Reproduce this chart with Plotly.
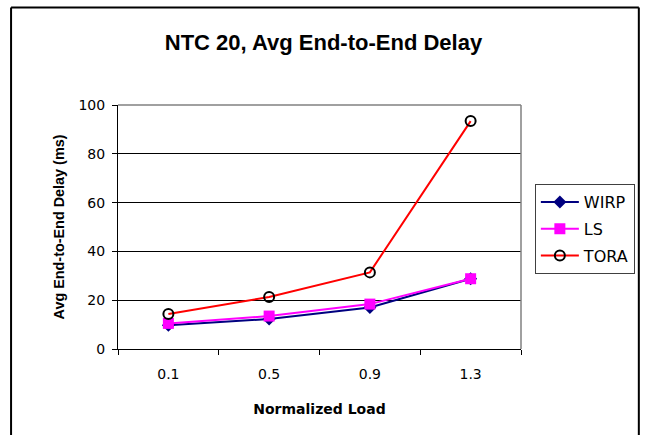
import plotly.graph_objects as go

categories = ["0.1", "0.5", "0.9", "1.3"]
wirp = [9.7, 12.3, 17.0, 28.8]
ls = [10.5, 13.5, 18.4, 28.8]
tora = [14.3, 21.3, 31.4, 93.4]

ARIAL = "Liberation Sans, Arial, sans-serif"
DEJA = "DejaVu Sans, Verdana, sans-serif"

fig = go.Figure()
fig.add_trace(go.Scatter(x=categories, y=wirp, name="WIRP", mode="lines+markers",
                         legendgroup="a",
                         line=dict(color="#000080", width=2),
                         marker=dict(symbol="diamond", size=10, color="#000080")))
fig.add_trace(go.Scatter(x=categories, y=ls, name="LS", mode="lines+markers",
                         legendgroup="b",
                         line=dict(color="#FF00FF", width=2),
                         marker=dict(symbol="square", size=11, color="#FF00FF")))
fig.add_trace(go.Scatter(x=categories, y=tora, name="TORA", mode="lines+markers",
                         legendgroup="c",
                         line=dict(color="#FF0000", width=2),
                         marker=dict(symbol="circle-open", size=10, color="#000000",
                                     line=dict(width=2))))

W, H = 647, 435
# plot area in page coords: x 118..525, y 105..349
L, T = 118, 105
R = W - 525
B = H - 349
pw, ph = W - L - R, H - T - B


def px(x):
    return (x - L) / pw


def py(y):
    return (H - B - y) / ph


fig.update_layout(
    width=W, height=H,
    margin=dict(l=L, r=R, t=T, b=B, pad=0),
    paper_bgcolor="white", plot_bgcolor="white",
    font=dict(family=DEJA, size=14, color="black"),
    title=dict(text="<b>NTC 20, Avg End-to-End Delay</b>", x=px(325.5), xref="paper",
               xanchor="center", yref="container", y=1 - 42 / H,
               yanchor="middle",
               font=dict(size=22, family=ARIAL, color="black")),
    xaxis=dict(type="category", tickson="boundaries", ticks="outside", ticklen=5,
               tickcolor="black", showline=True, linecolor="black", linewidth=1,
               showgrid=False, mirror=False, range=[-0.5, 3.5],
               ticklabelstandoff=12,
               tickfont=dict(size=14, family=DEJA),
               title=dict(text="<b>Normalized Load</b>", font=dict(size=14, family=DEJA),
                          standoff=23)),
    yaxis=dict(range=[0, 100], dtick=20, ticks="outside", ticklen=5, tickcolor="black",
               showline=True, linecolor="black", linewidth=1, showgrid=True,
               gridcolor="black", gridwidth=1, zeroline=False,
               ticklabelstandoff=4,
               tickfont=dict(size=14, family=DEJA),
               title=dict(text="<b>Avg End-to-End Delay (ms)</b>",
                          font=dict(size=14.4, family=ARIAL), standoff=10)),
    legend=dict(x=px(539), y=py(184), xanchor="left", yanchor="top",
                bordercolor="#404040", borderwidth=1, bgcolor="white",
                font=dict(size=16, family=DEJA), itemwidth=38,
                tracegroupgap=3),
    showlegend=True,
)

# Plot area border (gray top/right)
fig.add_shape(type="line", xref="paper", yref="paper", x0=0, x1=1, y0=1, y1=1,
              line=dict(color="#808080", width=1.5))
fig.add_shape(type="line", xref="paper", yref="paper", x0=1, x1=1, y0=0, y1=1,
              line=dict(color="#808080", width=1.5))
# Outer chart border
for (xa, ya, xb, yb) in [(10, 7.5, 644, 7.5), (10, 7.5, 10, 470), (644, 7.5, 644, 470)]:
    fig.add_shape(type="line", xref="paper", yref="paper",
                  x0=px(xa), y0=py(ya), x1=px(xb), y1=py(yb),
                  line=dict(color="black", width=2), layer="above")

fig.write_html(
    "out.html",
    config={"displayModeBar": False, "responsive": False},
    post_script=("document.documentElement.style.overflow='hidden';"
                 "document.body.style.overflow='hidden';"
                 "document.body.style.margin='0';"),
)
